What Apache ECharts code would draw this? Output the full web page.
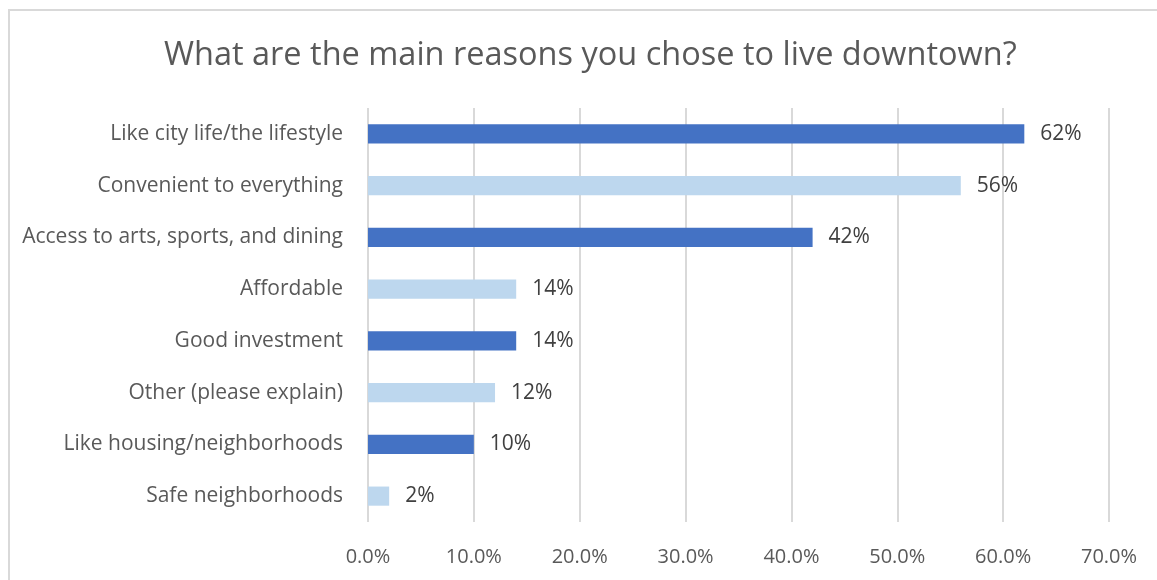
<!DOCTYPE html>
<html>
<head>
<meta charset="utf-8">
<script src="https://cdn.jsdelivr.net/npm/echarts@6/dist/echarts.min.js"></script>
<style>
  html, body { margin: 0; padding: 0; background: #fff; }
  #chart { width: 1157px; height: 580px; }
</style>
</head>
<body>
<div id="chart"></div>
<script>
// Survey answers, top to bottom
const categories = [
  'Like city life/the lifestyle',
  'Convenient to everything',
  'Access to arts, sports, and dining',
  'Affordable',
  'Good investment',
  'Other (please explain)',
  'Like housing/neighborhoods',
  'Safe neighborhoods'
];
// Share of respondents, in percent
const values = [62, 56, 42, 14, 14, 12, 10, 2];
// Bars alternate between two blues
const barColors = ['#4472C4', '#BDD7EE'];

const FONT = 'Open Sans';

const chart = echarts.init(document.getElementById('chart'), null, { renderer: 'canvas' });

chart.setOption({
  backgroundColor: '#ffffff',
  animation: false,
  textStyle: { fontFamily: FONT },
  title: {
    text: 'What are the main reasons you chose to live downtown?',
    left: 159,
    top: 34,
    textStyle: { fontFamily: FONT, fontSize: 32.5, fontWeight: 'normal', color: '#595959' }
  },
  graphic: [{
    type: 'rect',
    shape: { x: 9, y: 10, width: 1200, height: 620 },
    style: { fill: 'none', stroke: '#D9D9D9', lineWidth: 2 },
    silent: true
  }],
  grid: { left: 368, right: 48, top: 108, bottom: 58, containLabel: false },
  xAxis: {
    type: 'value',
    min: 0,
    max: 70,
    interval: 10,
    axisLine: { show: false },
    axisTick: { show: false },
    splitLine: { show: true, lineStyle: { color: '#D9D9D9', width: 2 } },
    axisLabel: {
      margin: 25,
      fontFamily: FONT,
      fontSize: 20,
      color: '#595959',
      formatter: v => v.toFixed(1) + '%'
    }
  },
  yAxis: {
    type: 'category',
    data: categories,
    inverse: true,
    axisLine: { show: false },
    axisTick: { show: false },
    splitLine: { show: false },
    axisLabel: { margin: 25, fontFamily: FONT, fontSize: 21, color: '#595959' }
  },
  series: [{
    type: 'bar',
    data: values.map((v, i) => ({ value: v, itemStyle: { color: barColors[i % 2] } })),
    barCategoryGap: '63%',
    label: {
      show: true,
      position: 'right',
      distance: 16,
      fontFamily: FONT,
      fontSize: 21,
      color: '#404040',
      formatter: p => p.value + '%'
    }
  }]
});
</script>
</body>
</html>
